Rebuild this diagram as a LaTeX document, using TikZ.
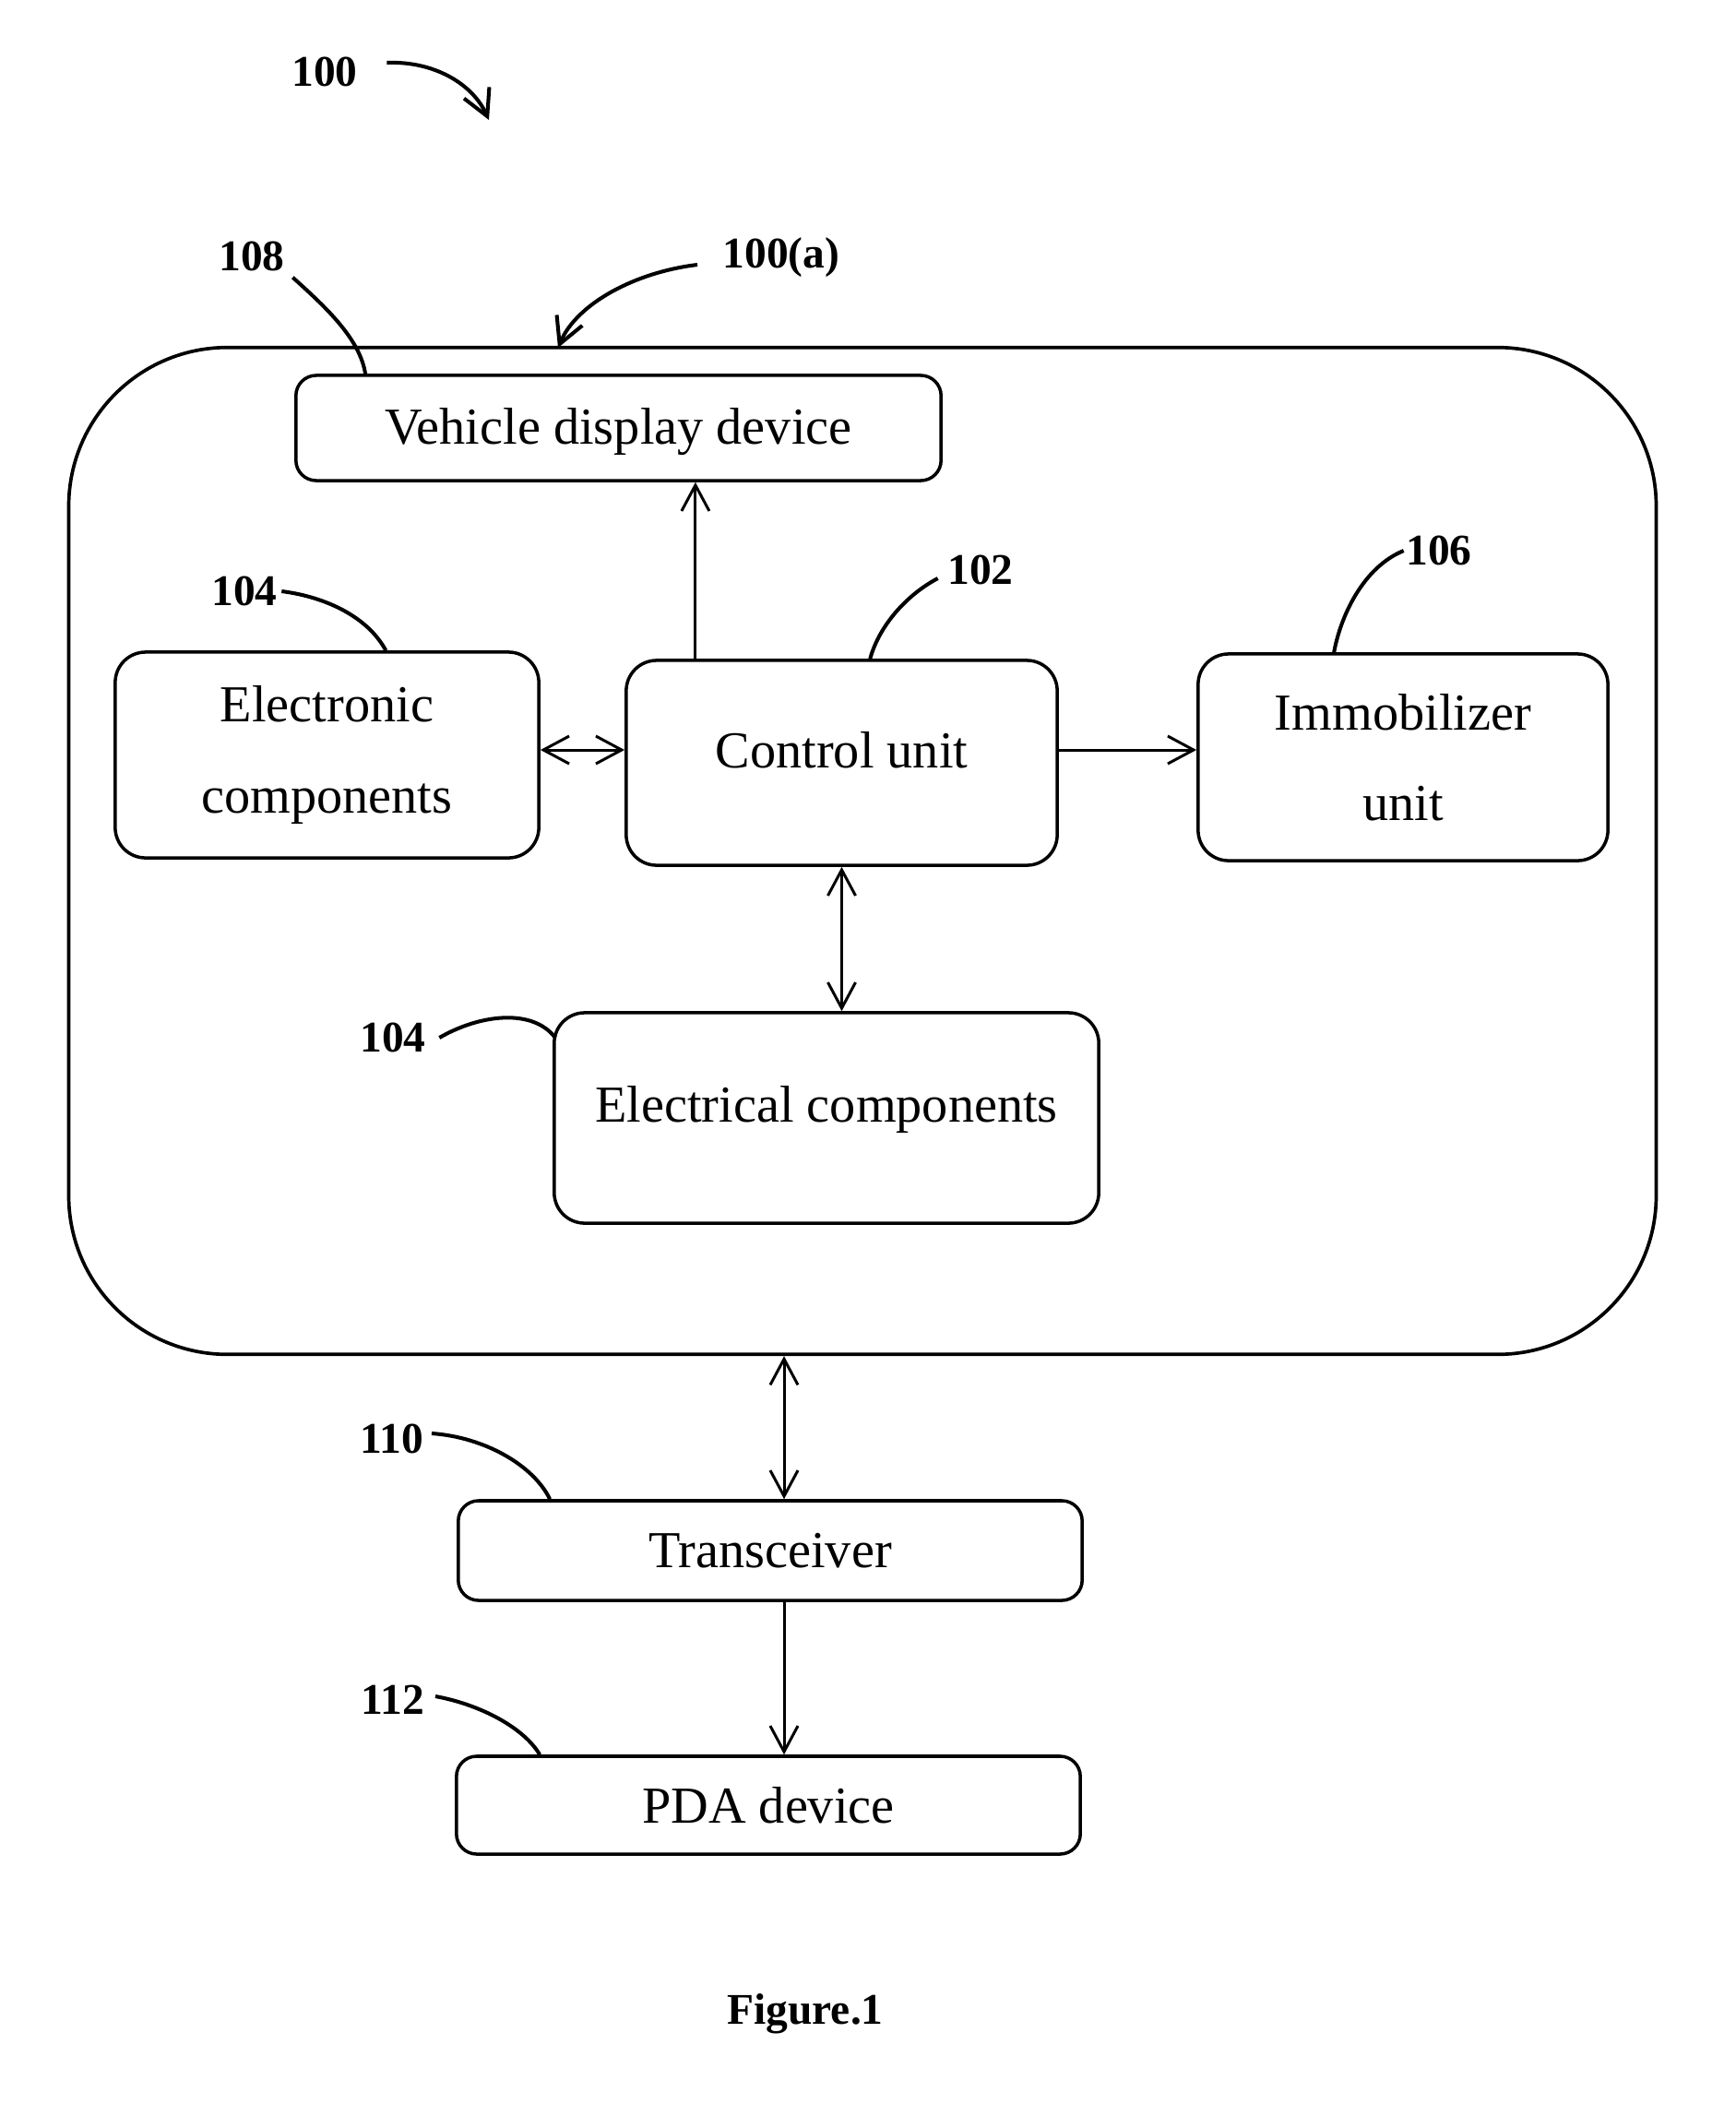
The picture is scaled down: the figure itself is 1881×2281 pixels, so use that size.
\documentclass[tikz,border=0pt]{standalone}
\usepackage{fontspec}
\setmainfont{Liberation Serif}
\usetikzlibrary{arrows.meta}

\begin{document}
\begin{tikzpicture}[x=0.01cm, y=-0.01cm,
  >={Straight Barb[length=2.8mm,width=3mm]},
  unit/.style={draw, line width=1pt, rounded corners=3.3mm, align=center, inner sep=0pt, font=\fontsize{16}{28}\selectfont},
  slim/.style={unit, rounded corners=2.2mm},
  frame/.style={draw, line width=1.05pt, rounded corners=17.2mm, minimum width=17.2cm, minimum height=10.91cm, inner sep=0pt},
  ref/.style={inner sep=0pt, font=\fontsize{13.5}{16}\selectfont\bfseries},
  lead/.style={line width=1.15pt},
  rel/.style={->, line width=0.85pt},
  both/.style={<->, line width=0.85pt}
]
\useasboundingbox (0,0) rectangle (1881,2281);

\node[frame] (veh) at (935,922.5) {};

\node[slim, minimum width=6.99cm, minimum height=1.14cm, text height=4.75mm] (disp) at (670.5,464) {Vehicle display device};
\node[unit, minimum width=4.59cm, minimum height=2.23cm] (elec) at (354.5,818.5) {Electronic\\components};
\node[unit, minimum width=4.67cm, minimum height=2.22cm, text depth=2.9mm] (ctrl) at (912.5,827) {Control unit};
\node[unit, minimum width=4.44cm, minimum height=2.24cm] (immo) at (1521,821) {Immobilizer\\unit};
\node[unit, minimum width=5.90cm, minimum height=2.28cm, text depth=3mm] (elcl) at (896,1212) {Electrical components};
\node[slim, minimum width=6.76cm, minimum height=1.08cm] (trx) at (835,1681) {Transceiver};
\node[slim, minimum width=6.76cm, minimum height=1.06cm] (pda) at (833,1957) {PDA device};

% reference numerals
\node[ref] (n100) at (352,78) {100};
\node[ref] (n100a) at (847,279) {100(a)};
\node[ref] (n108) at (273,278) {108};
\node[ref] (n104a) at (265,641) {104};
\node[ref] (n102) at (1063,618) {102};
\node[ref] (n106) at (1560,597) {106};
\node[ref] (n104b) at (426,1125) {104};
\node[ref] (n110) at (425,1560) {110};
\node[ref] (n112) at (426,1843) {112};
\node[ref] (fig) at (873,2183) {Figure.1};

\coordinate (p100) at (530,130);
\coordinate (p100a) at (605,377);

% connections
\draw[rel] ([xshift=-1.585cm]ctrl.north) -- ([xshift=-1.585cm]ctrl.north |- disp.south);
\draw[both] ([yshift=0.055cm]elec.east) -- ([yshift=0.055cm]elec.east -| ctrl.west);
\draw[rel] ([yshift=0.14cm]ctrl.east) -- ([yshift=0.14cm]ctrl.east -| immo.west);
\draw[both] (ctrl.south) -- (ctrl.south |- elcl.north);
\draw[both] ([xshift=0.15cm]trx.north) -- ([xshift=0.15cm]trx.north |- veh.south);
\draw[rel] ([xshift=0.15cm]trx.south) -- ([xshift=0.15cm]trx.south |- pda.north);

% leaders
\draw[lead, ->] ([xshift=0.31cm,yshift=0.1cm]n100.east) .. controls +(50,-2) and +(-18,-40) .. (p100);
\draw[lead, ->] ([xshift=-0.27cm,yshift=-0.08cm]n100a.west) .. controls +(-67,8) and +(20,-48) .. (p100a);
\draw[lead] ([xshift=0.08cm,yshift=-0.06cm]n108.south east) .. controls +(39,35) and +(-6,-37) .. ([xshift=0.77cm]disp.north west);
\draw[lead] ([xshift=0.04cm]n104a.east) .. controls +(47,6) and +(-20,-37) .. ([xshift=2.95cm]elec.north west);
\draw[lead] ([xshift=-0.1cm,yshift=-0.09cm]n102.west) .. controls +(-34,18) and +(10,-36) .. ([xshift=2.66cm]ctrl.north west);
\draw[lead] ([xshift=-0.02cm]n106.west) .. controls +(-44,18) and +(7,-39) .. ([xshift=1.49cm]immo.north west);
\draw[lead] ([xshift=0.14cm]n104b.east) .. controls +(45,-26) and +(-24,-32) .. ([xshift=0.03cm,yshift=-0.29cm]elcl.north west);
\draw[lead] ([xshift=0.08cm,yshift=0.06cm]n110.east) .. controls +(57,4) and +(-18,-37) .. ([xshift=1.01cm]trx.north west);
\draw[lead] ([xshift=0.11cm,yshift=0.04cm]n112.east) .. controls +(49,9) and +(-17,-29) .. ([xshift=0.92cm]pda.north west);
\end{tikzpicture}
\end{document}
